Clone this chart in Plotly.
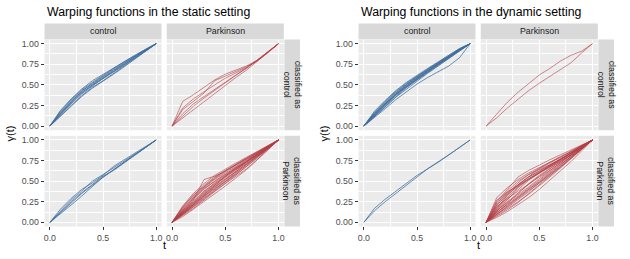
import plotly.graph_objects as go

# ---------------- data ----------------
T = [0.0, 0.1, 0.2, 0.3, 0.4, 0.5, 0.6, 0.7, 0.8, 0.9, 1.0]

X_TICKS = [0.0, 0.5, 1.0]
X_TICKTEXT = ["0.0", "0.5", "1.0"]
Y_TICKS = [0.0, 0.25, 0.5, 0.75, 1.0]
Y_TICKTEXT = ["0.00", "0.25", "0.50", "0.75", "1.00"]
X_MINOR = [0.25, 0.75]
Y_MINOR = [0.125, 0.375, 0.625, 0.875]

COL_LABELS = ["control", "Parkinson"]
ROW_LABELS = ["classified as<br>control", "classified as<br>Parkinson"]
TITLES = ["Warping functions in the static setting",
          "Warping functions in the dynamic setting"]

# static setting: true group x classified group
static_control_as_control = [
    [0, 0.17, 0.30, 0.42, 0.52, 0.61, 0.69, 0.77, 0.85, 0.92, 1],
    [0, 0.15, 0.28, 0.40, 0.50, 0.58, 0.66, 0.75, 0.83, 0.91, 1],
    [0, 0.13, 0.25, 0.37, 0.47, 0.55, 0.64, 0.73, 0.82, 0.91, 1],
    [0, 0.18, 0.32, 0.44, 0.53, 0.62, 0.70, 0.78, 0.86, 0.93, 1],
    [0, 0.14, 0.27, 0.39, 0.49, 0.58, 0.67, 0.76, 0.84, 0.92, 1],
    [0, 0.16, 0.30, 0.43, 0.51, 0.60, 0.68, 0.76, 0.85, 0.93, 1],
    [0, 0.12, 0.24, 0.36, 0.46, 0.54, 0.63, 0.72, 0.81, 0.90, 1],
    [0, 0.19, 0.33, 0.45, 0.55, 0.63, 0.71, 0.79, 0.86, 0.93, 1],
    [0, 0.15, 0.29, 0.41, 0.49, 0.57, 0.66, 0.74, 0.83, 0.92, 1],
]
static_parkinson_as_control = [
    [0, 0.30, 0.38, 0.47, 0.56, 0.63, 0.68, 0.73, 0.80, 0.90, 1],
    [0, 0.20, 0.30, 0.40, 0.55, 0.61, 0.66, 0.72, 0.79, 0.89, 1],
    [0, 0.15, 0.27, 0.36, 0.45, 0.54, 0.62, 0.70, 0.79, 0.89, 1],
    [0, 0.10, 0.20, 0.30, 0.40, 0.50, 0.59, 0.68, 0.78, 0.89, 1],
    [0, 0.22, 0.33, 0.42, 0.50, 0.58, 0.65, 0.71, 0.80, 0.90, 1],
    [0, 0.12, 0.24, 0.34, 0.43, 0.52, 0.61, 0.70, 0.80, 0.90, 1],
]
static_control_as_parkinson = [
    [0, 0.14, 0.27, 0.38, 0.50, 0.58, 0.66, 0.74, 0.83, 0.91, 1],
    [0, 0.12, 0.24, 0.35, 0.45, 0.55, 0.64, 0.73, 0.82, 0.91, 1],
    [0, 0.16, 0.29, 0.40, 0.48, 0.57, 0.68, 0.76, 0.84, 0.92, 1],
    [0, 0.10, 0.21, 0.32, 0.43, 0.55, 0.64, 0.73, 0.82, 0.91, 1],
    [0, 0.13, 0.25, 0.36, 0.46, 0.56, 0.63, 0.72, 0.81, 0.90, 1],
]
static_parkinson_as_parkinson = [
    [0, 0.12, 0.24, 0.35, 0.45, 0.55, 0.64, 0.73, 0.82, 0.91, 1],
    [0, 0.15, 0.28, 0.40, 0.50, 0.59, 0.67, 0.75, 0.84, 0.92, 1],
    [0, 0.10, 0.20, 0.30, 0.40, 0.50, 0.60, 0.70, 0.80, 0.90, 1],
    [0, 0.08, 0.17, 0.27, 0.37, 0.47, 0.57, 0.67, 0.78, 0.89, 1],
    [0, 0.18, 0.33, 0.45, 0.55, 0.63, 0.70, 0.77, 0.85, 0.93, 1],
    [0, 0.14, 0.27, 0.52, 0.56, 0.62, 0.69, 0.76, 0.84, 0.92, 1],
    [0, 0.11, 0.22, 0.33, 0.43, 0.52, 0.61, 0.71, 0.81, 0.91, 1],
    [0, 0.20, 0.35, 0.47, 0.57, 0.65, 0.72, 0.79, 0.86, 0.93, 1],
    [0, 0.09, 0.19, 0.29, 0.38, 0.46, 0.55, 0.65, 0.76, 0.88, 1],
    [0, 0.13, 0.25, 0.37, 0.48, 0.57, 0.65, 0.73, 0.82, 0.91, 1],
    [0, 0.16, 0.30, 0.42, 0.52, 0.60, 0.68, 0.76, 0.84, 0.92, 1],
    [0, 0.07, 0.16, 0.25, 0.35, 0.44, 0.54, 0.64, 0.76, 0.88, 1],
    [0, 0.12, 0.23, 0.34, 0.44, 0.53, 0.62, 0.74, 0.83, 0.91, 1],
    [0, 0.17, 0.31, 0.43, 0.53, 0.62, 0.70, 0.78, 0.86, 0.93, 1],
    [0, 0.10, 0.21, 0.31, 0.42, 0.52, 0.62, 0.71, 0.80, 0.89, 1],
    [0, 0.14, 0.26, 0.38, 0.47, 0.55, 0.63, 0.72, 0.81, 0.90, 1],
    [0, 0.11, 0.21, 0.32, 0.41, 0.49, 0.58, 0.68, 0.79, 0.90, 1],
    [0, 0.19, 0.33, 0.44, 0.54, 0.63, 0.71, 0.78, 0.85, 0.92, 1],
    [0, 0.13, 0.24, 0.36, 0.46, 0.56, 0.66, 0.74, 0.83, 0.91, 1],
    [0, 0.09, 0.18, 0.28, 0.39, 0.49, 0.59, 0.69, 0.79, 0.89, 1],
    [0, 0.15, 0.29, 0.41, 0.50, 0.58, 0.66, 0.74, 0.82, 0.90, 1],
    [0, 0.12, 0.22, 0.33, 0.45, 0.56, 0.65, 0.73, 0.82, 0.91, 1],
]

# dynamic setting
dynamic_control_as_control = [
    [0, 0.15, 0.28, 0.40, 0.50, 0.59, 0.67, 0.75, 0.84, 0.92, 1],
    [0, 0.14, 0.26, 0.38, 0.48, 0.57, 0.66, 0.75, 0.84, 0.92, 1],
    [0, 0.17, 0.30, 0.42, 0.52, 0.61, 0.69, 0.77, 0.85, 0.93, 1],
    [0, 0.12, 0.24, 0.36, 0.47, 0.56, 0.65, 0.74, 0.83, 0.92, 1],
    [0, 0.10, 0.21, 0.32, 0.42, 0.51, 0.59, 0.66, 0.73, 0.83, 1],
    [0, 0.16, 0.29, 0.41, 0.51, 0.60, 0.68, 0.76, 0.85, 0.93, 1],
    [0, 0.13, 0.25, 0.37, 0.47, 0.57, 0.66, 0.75, 0.84, 0.93, 1],
    [0, 0.18, 0.31, 0.43, 0.53, 0.62, 0.70, 0.78, 0.86, 0.94, 1],
    [0, 0.14, 0.27, 0.39, 0.49, 0.58, 0.67, 0.76, 0.85, 0.93, 1],
    [0, 0.11, 0.23, 0.35, 0.45, 0.55, 0.64, 0.73, 0.82, 0.91, 1],
    [0, 0.15, 0.27, 0.39, 0.50, 0.60, 0.69, 0.77, 0.86, 0.94, 1],
    [0, 0.13, 0.26, 0.38, 0.48, 0.58, 0.67, 0.76, 0.85, 0.93, 1],
]
dynamic_parkinson_as_control = [
    [0, 0.15, 0.29, 0.41, 0.52, 0.62, 0.70, 0.79, 0.86, 0.91, 1],
    [0, 0.10, 0.22, 0.33, 0.43, 0.52, 0.60, 0.68, 0.77, 0.89, 1],
]
dynamic_control_as_parkinson = [
    [0, 0.17, 0.28, 0.38, 0.48, 0.57, 0.65, 0.73, 0.82, 0.91, 1],
    [0, 0.14, 0.25, 0.35, 0.45, 0.54, 0.65, 0.73, 0.82, 0.91, 1],
]
dynamic_parkinson_as_parkinson = [
    [0, 0.30, 0.42, 0.52, 0.60, 0.67, 0.73, 0.79, 0.86, 0.93, 1],
    [0, 0.25, 0.40, 0.55, 0.63, 0.70, 0.76, 0.82, 0.88, 0.94, 1],
    [0, 0.20, 0.35, 0.48, 0.58, 0.66, 0.73, 0.80, 0.87, 0.94, 1],
    [0, 0.15, 0.28, 0.40, 0.51, 0.60, 0.68, 0.76, 0.84, 0.92, 1],
    [0, 0.10, 0.20, 0.30, 0.40, 0.50, 0.60, 0.70, 0.80, 0.90, 1],
    [0, 0.06, 0.13, 0.21, 0.30, 0.40, 0.51, 0.62, 0.74, 0.87, 1],
    [0, 0.12, 0.22, 0.32, 0.42, 0.52, 0.62, 0.71, 0.80, 0.90, 1],
    [0, 0.18, 0.32, 0.45, 0.55, 0.63, 0.70, 0.77, 0.85, 0.93, 1],
    [0, 0.08, 0.16, 0.25, 0.34, 0.44, 0.55, 0.66, 0.77, 0.89, 1],
    [0, 0.22, 0.38, 0.50, 0.58, 0.64, 0.70, 0.77, 0.85, 0.93, 1],
    [0, 0.14, 0.25, 0.36, 0.46, 0.56, 0.65, 0.74, 0.83, 0.92, 1],
    [0, 0.27, 0.37, 0.45, 0.53, 0.61, 0.69, 0.77, 0.85, 0.93, 1],
    [0, 0.09, 0.19, 0.29, 0.38, 0.47, 0.57, 0.67, 0.78, 0.89, 1],
    [0, 0.16, 0.30, 0.43, 0.53, 0.61, 0.69, 0.76, 0.84, 0.92, 1],
    [0, 0.11, 0.23, 0.35, 0.47, 0.57, 0.66, 0.74, 0.82, 0.91, 1],
    [0, 0.19, 0.29, 0.38, 0.47, 0.55, 0.63, 0.72, 0.81, 0.91, 1],
    [0, 0.07, 0.15, 0.24, 0.35, 0.46, 0.57, 0.68, 0.79, 0.90, 1],
    [0, 0.13, 0.27, 0.42, 0.52, 0.60, 0.67, 0.74, 0.82, 0.91, 1],
    [0, 0.24, 0.36, 0.46, 0.55, 0.62, 0.69, 0.76, 0.84, 0.92, 1],
    [0, 0.10, 0.18, 0.27, 0.37, 0.48, 0.59, 0.69, 0.80, 0.90, 1],
    [0, 0.17, 0.33, 0.46, 0.56, 0.65, 0.72, 0.79, 0.86, 0.93, 1],
    [0, 0.12, 0.21, 0.31, 0.40, 0.49, 0.58, 0.68, 0.79, 0.90, 1],
    [0, 0.21, 0.34, 0.44, 0.52, 0.59, 0.67, 0.75, 0.83, 0.92, 1],
    [0, 0.14, 0.24, 0.33, 0.43, 0.53, 0.63, 0.73, 0.82, 0.91, 1],
]

# ---------------- styling ----------------
BLUE = "rgba(62,108,155,0.75)"
RED = "rgba(178,62,68,0.6)"
FONT = "Liberation Sans, Arial, sans-serif"
W, H = 630, 259

# (chart, row, col, curves, colour)
PANELS = [
    (0, 0, 0, static_control_as_control, BLUE),
    (0, 0, 1, static_parkinson_as_control, RED),
    (0, 1, 0, static_control_as_parkinson, BLUE),
    (0, 1, 1, static_parkinson_as_parkinson, RED),
    (1, 0, 0, dynamic_control_as_control, BLUE),
    (1, 0, 1, dynamic_parkinson_as_control, RED),
    (1, 1, 0, dynamic_control_as_parkinson, BLUE),
    (1, 1, 1, dynamic_parkinson_as_parkinson, RED),
]

CHART_OFFSET = [0.0, 315.0]
COL_PX = [(43.7, 161.0), (166.3, 283.7)]
ROW_PX = [(38.85, 130.2), (135.9, 227.2)]
STRIP_TOP = (22.7, 38.6)
STRIP_RIGHT = (284.3, 300.0)


def fx(x):
    return x / W


def fy(y):
    return 1 - y / H


fig = go.Figure()
layout = {}
shapes = []
annotations = []

for i, (chart, row, col, curves, color) in enumerate(PANELS, start=1):
    sfx = "" if i == 1 else str(i)
    off = CHART_OFFSET[chart]
    x0, x1 = COL_PX[col]
    y0, y1 = ROW_PX[row]
    for curve in curves:
        fig.add_trace(go.Scatter(
            x=T, y=curve, mode="lines", xaxis="x" + sfx, yaxis="y" + sfx,
            line=dict(color=color, width=1), showlegend=False, hoverinfo="skip"))
    show_x = row == 1
    show_y = col == 0
    layout["xaxis" + sfx] = dict(
        domain=[fx(off + x0), fx(off + x1)], anchor="y" + sfx,
        range=[-0.05, 1.05], tickmode="array", tickvals=X_TICKS, ticktext=X_TICKTEXT,
        showticklabels=show_x, ticks="outside" if show_x else "", ticklen=3,
        tickcolor="#333333", tickwidth=1,
        tickfont=dict(size=8.8, color="#4d4d4d", family=FONT),
        showgrid=True, gridcolor="white", gridwidth=1.3, zeroline=False, showline=False,
        minor=dict(tickmode="array", tickvals=X_MINOR, showgrid=True,
                   gridcolor="white", gridwidth=0.6, ticks=""),
    )
    layout["yaxis" + sfx] = dict(
        domain=[fy(y1), fy(y0)], anchor="x" + sfx,
        range=[-0.05, 1.05], tickmode="array", tickvals=Y_TICKS, ticktext=Y_TICKTEXT,
        showticklabels=show_y, ticks="outside" if show_y else "", ticklen=3,
        tickcolor="#333333", tickwidth=1,
        tickfont=dict(size=8.8, color="#4d4d4d", family=FONT),
        showgrid=True, gridcolor="white", gridwidth=1.3, zeroline=False, showline=False,
        minor=dict(tickmode="array", tickvals=Y_MINOR, showgrid=True,
                   gridcolor="white", gridwidth=0.6, ticks=""),
    )

for chart in range(2):
    off = CHART_OFFSET[chart]
    # top strips
    for col in range(2):
        x0, x1 = COL_PX[col]
        shapes.append(dict(type="rect", xref="paper", yref="paper",
                           x0=fx(off + x0), x1=fx(off + x1),
                           y0=fy(STRIP_TOP[1]), y1=fy(STRIP_TOP[0]),
                           fillcolor="#d9d9d9", line=dict(width=0), layer="below"))
        annotations.append(dict(xref="paper", yref="paper",
                                x=fx(off + (x0 + x1) / 2), y=fy((STRIP_TOP[0] + STRIP_TOP[1]) / 2),
                                text=COL_LABELS[col], showarrow=False,
                                font=dict(size=8.8, color="#1a1a1a", family=FONT),
                                xanchor="center", yanchor="middle"))
    # right strips
    for row in range(2):
        y0, y1 = ROW_PX[row]
        shapes.append(dict(type="rect", xref="paper", yref="paper",
                           x0=fx(off + STRIP_RIGHT[0]), x1=fx(off + STRIP_RIGHT[1]),
                           y0=fy(y1), y1=fy(y0),
                           fillcolor="#d9d9d9", line=dict(width=0), layer="below"))
        annotations.append(dict(xref="paper", yref="paper",
                                x=fx(off + (STRIP_RIGHT[0] + STRIP_RIGHT[1]) / 2),
                                y=fy((y0 + y1) / 2),
                                text=ROW_LABELS[row], showarrow=False, textangle=90,
                                font=dict(size=8.8, color="#1a1a1a", family=FONT),
                                xanchor="center", yanchor="middle"))
    # title
    annotations.append(dict(xref="paper", yref="paper", x=fx(off + 44.5), y=fy(11.5),
                            text=TITLES[chart], showarrow=False,
                            font=dict(size=12.3, color="black", family=FONT),
                            xanchor="left", yanchor="middle"))
    # axis titles
    annotations.append(dict(xref="paper", yref="paper", x=fx(off + 8.5), y=fy(133),
                            text="γ(t)", showarrow=False, textangle=-90,
                            font=dict(size=11, color="black", family=FONT),
                            xanchor="center", yanchor="middle"))
    annotations.append(dict(xref="paper", yref="paper", x=fx(off + 163.7), y=fy(246),
                            text="t", showarrow=False,
                            font=dict(size=11, color="black", family=FONT),
                            xanchor="center", yanchor="middle"))

fig.update_layout(
    width=W, height=H, margin=dict(l=0, r=0, t=0, b=0),
    paper_bgcolor="white", plot_bgcolor="#ebebeb",
    shapes=shapes, annotations=annotations, showlegend=False,
    font=dict(family=FONT),
    **layout,
)

fig.write_html(
    "out.html",
    config={"displayModeBar": False},
    post_script="document.body.style.margin='0';document.body.style.padding='0';",
)
